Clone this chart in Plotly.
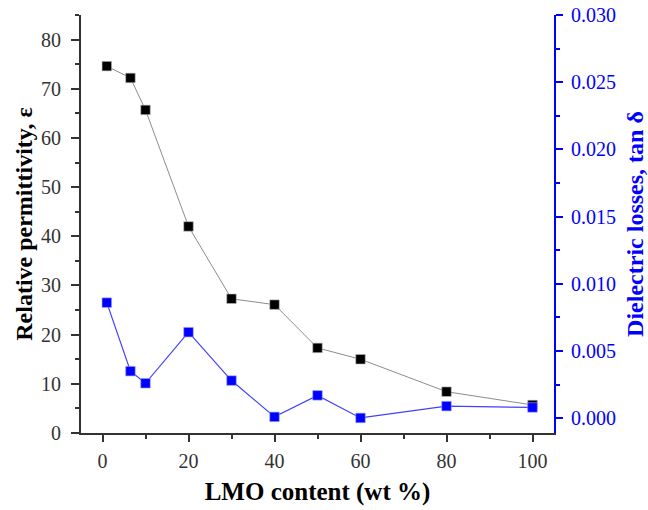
import plotly.graph_objects as go

lmo_content = [1, 6.5, 10, 20, 30, 40, 50, 60, 80, 100]
permittivity = [74.6, 72.2, 65.7, 42.0, 27.3, 26.1, 17.3, 15.0, 8.4, 5.7]
tan_delta = [0.0086, 0.0035, 0.0026, 0.0064, 0.0028, 0.0001, 0.0017, 0.00002, 0.0009, 0.0008]

FONT = "Liberation Serif"
AXC = "#333333"
BLUE = "#0000ff"
TICK = 20

fig = go.Figure()
fig.add_trace(go.Scatter(
    x=lmo_content, y=permittivity, mode="lines+markers",
    line=dict(color="#8c8c8c", width=1),
    marker=dict(symbol="square", size=9.5, color="black", line=dict(color="#bbbbbb", width=0.6)),
    showlegend=False, yaxis="y"))
fig.add_trace(go.Scatter(
    x=lmo_content, y=tan_delta, mode="lines+markers",
    line=dict(color="#4040ff", width=1.2),
    marker=dict(symbol="square", size=9.5, color=BLUE, line=dict(color="#9a9aff", width=0.6)),
    showlegend=False, yaxis="y2"))

fig.update_layout(
    width=648, height=510,
    margin=dict(l=81, r=94, t=15, b=77, autoexpand=False),
    paper_bgcolor="white", plot_bgcolor="white",
    font=dict(family=FONT, size=TICK, color=AXC),
    xaxis=dict(
        range=[-5, 105], tickvals=[0, 20, 40, 60, 80, 100],
        showgrid=False, zeroline=False, automargin=False,
        showline=True, linecolor=AXC, linewidth=2,
        ticks="outside", ticklen=7, tickwidth=2, tickcolor=AXC,
        minor=dict(ticks="outside", ticklen=4, tickwidth=2, tickcolor=AXC, dtick=10, tick0=0),
        tickfont=dict(family=FONT, size=TICK, color=AXC),
        ticklabelstandoff=2,
        title=dict(text="<b>LMO content (wt %)</b>", font=dict(family=FONT, size=25, color="black"), standoff=11),
    ),
    yaxis=dict(
        range=[0, 85], tickvals=[0, 10, 20, 30, 40, 50, 60, 70, 80],
        showgrid=False, zeroline=False, automargin=False,
        showline=True, linecolor=AXC, linewidth=2,
        ticks="outside", ticklen=8, tickwidth=2, tickcolor=AXC,
        minor=dict(ticks="outside", ticklen=4, tickwidth=2, tickcolor=AXC, dtick=5, tick0=0),
        tickfont=dict(family=FONT, size=TICK, color=AXC),
        ticklabelstandoff=6,
        title=dict(text="<b>Relative permittivity, ε</b>", font=dict(family=FONT, size=24, color="black"), standoff=2),
    ),
    yaxis2=dict(
        range=[-0.0011, 0.030], tickvals=[0, 0.005, 0.010, 0.015, 0.020, 0.025, 0.030],
        ticktext=["0.000", "0.005", "0.010", "0.015", "0.020", "0.025", "0.030"],
        overlaying="y", side="right", anchor="x",
        showgrid=False, zeroline=False, automargin=False,
        showline=True, linecolor=BLUE, linewidth=2,
        ticks="outside", ticklen=7, tickwidth=2, tickcolor=BLUE,
        minor=dict(ticks="outside", ticklen=4, tickwidth=2, tickcolor=BLUE, dtick=0.0025, tick0=0),
        tickfont=dict(family=FONT, size=TICK, color=BLUE),
        ticklabelstandoff=4,
        title=dict(text="<b>Dielectric losses, tan δ</b>", font=dict(family=FONT, size=24, color=BLUE), standoff=13),
    ),
)

fig.write_html("out.html")
